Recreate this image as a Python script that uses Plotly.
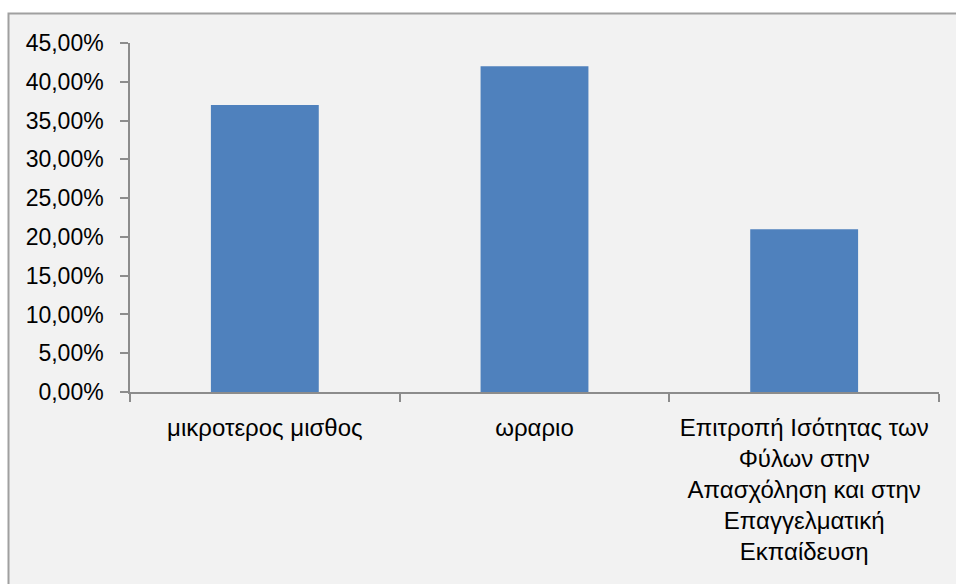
import plotly.graph_objects as go

# Categories and shares
categories = [
    "μικροτερος μισθος",
    "ωραριο",
    "Επιτροπή Ισότητας των<br>Φύλων στην<br>Απασχόληση και στην<br>Επαγγελματική<br>Εκπαίδευση",
]
shares = [0.37, 0.42, 0.21]
y_ticks = [0, 0.05, 0.10, 0.15, 0.20, 0.25, 0.30, 0.35, 0.40, 0.45]

W, H = 956, 584
L, R, T, B = 130, 17, 43, 192
pw, ph = W - L - R, H - T - B

def px_x(x):
    return (x - L) / pw

def px_y(y):
    return (H - B - y) / ph

font_family = "Liberation Sans, Arial, sans-serif"
axis_grey = "#8C8C8C"

fig = go.Figure(
    go.Bar(
        x=categories,
        y=shares,
        width=0.4,
        marker=dict(color="#4F81BD", line=dict(width=0)),
        hoverinfo="skip",
    )
)

# chart area frame and fill
fig.add_shape(
    type="rect", xref="paper", yref="paper", layer="below",
    x0=px_x(8.5), x1=px_x(W + 10), y0=px_y(13.5), y1=px_y(H + 10),
    fillcolor="#F2F2F2", line=dict(color="#A0A0A0", width=2),
)

fig.update_layout(
    width=W, height=H,
    margin=dict(l=L, r=R, t=T, b=B),
    paper_bgcolor="white",
    plot_bgcolor="rgba(0,0,0,0)",
    separators=",.",
    showlegend=False,
    font=dict(family=font_family, size=23, color="#000000"),
    xaxis=dict(
        type="category",
        showline=True, linecolor=axis_grey, linewidth=1.5,
        ticks="outside", tickson="boundaries", ticklen=8,
        tickcolor=axis_grey, tickwidth=1.5,
        showgrid=False, zeroline=False,
        ticklabelstandoff=13,
        tickfont=dict(family=font_family, size=24, color="#000000"),
    ),
    yaxis=dict(
        range=[0, 0.45],
        tickvals=y_ticks,
        tickformat=".2%",
        showline=True, linecolor=axis_grey, linewidth=1.5,
        ticks="outside", ticklen=8, tickcolor=axis_grey, tickwidth=1.5,
        showgrid=False, zeroline=False,
        ticklabelstandoff=12,
        tickfont=dict(family=font_family, size=23, color="#000000"),
    ),
)

fig.write_html("out.html")
